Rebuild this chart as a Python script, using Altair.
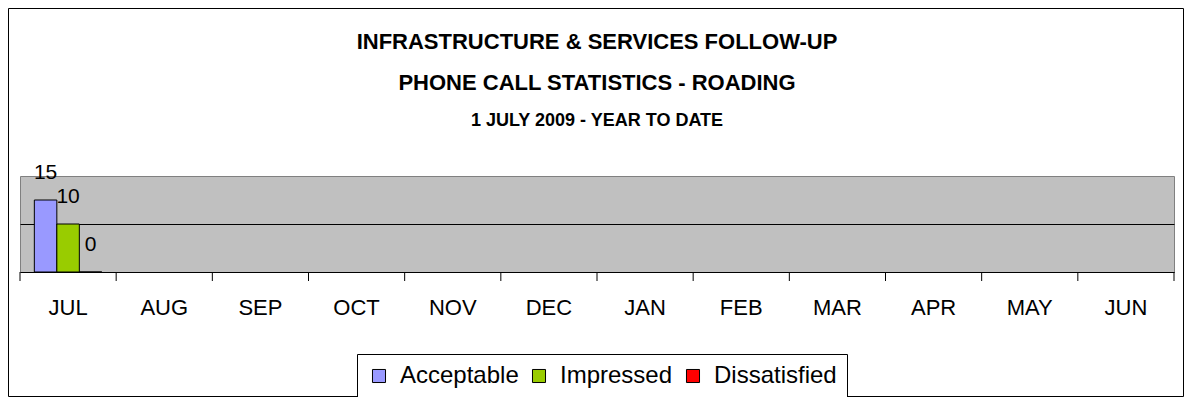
import altair as alt
import pandas as pd

months = ["JUL", "AUG", "SEP", "OCT", "NOV", "DEC", "JAN", "FEB", "MAR", "APR", "MAY", "JUN"]
series = ["Acceptable", "Impressed", "Dissatisfied"]
series_colors = ["#9999FF", "#99CC00", "#FF0000"]
jul_values = [15, 10, 0]

title_lines = ["INFRASTRUCTURE & SERVICES  FOLLOW-UP", "PHONE CALL STATISTICS - ROADING"]
subtitle_line = "1 JULY 2009 - YEAR TO DATE"

df = pd.DataFrame({"Month": ["JUL"] * len(series), "Series": series, "Value": jul_values})
ticks_df = pd.DataFrame({"Month": months})
one_df = pd.DataFrame({"k": [0]})

W, H = 1154, 96

x_enc = alt.X("Month:N", sort=months,
              scale=alt.Scale(domain=months, paddingInner=0, paddingOuter=0),
              axis=alt.Axis(title=None, ticks=False, domain=True, domainColor="black",
                            labelFontSize=22, labelColor="black", labelPadding=25,
                            labelAngle=0, grid=False))
xo_enc = alt.XOffset("Series:N", sort=series,
                     scale=alt.Scale(domain=series, paddingInner=0, paddingOuter=0.637))
y_enc = alt.Y("Value:Q", scale=alt.Scale(domain=[0, 20], nice=False),
              axis=alt.Axis(title=None, labels=False, ticks=False, domain=False,
                            grid=True, gridColor="black", gridOpacity=1, values=[10]))

bars = alt.Chart(df).mark_bar(stroke="black", strokeWidth=1).encode(
    x=x_enc, xOffset=xo_enc, y=y_enc,
    color=alt.Color("Series:N", sort=series,
                    scale=alt.Scale(domain=series, range=series_colors),
                    legend=alt.Legend(title=None, orient="none", legendX=337, legendY=178,
                                      direction="horizontal", symbolType="square",
                                      symbolSize=170, symbolStrokeColor="black",
                                      symbolStrokeWidth=1, labelFontSize=24,
                                      labelColor="black", labelOffset=9,
                                      columnPadding=8, padding=10,
                                      strokeColor="black", fillColor="white"))
)

labels = alt.Chart(df).mark_text(fontSize=21, dy=-27, baseline="middle", align="center",
                                 color="black").encode(
    x=alt.X("Month:N", sort=months), xOffset=alt.XOffset("Series:N", sort=series),
    y="Value:Q", text="Value:Q"
)

tick_marks = alt.Chart(ticks_df).mark_rule(color="black", strokeWidth=1).encode(
    x=alt.X("Month:N", sort=months, bandPosition=0),
    y=alt.value(H), y2=alt.value(H + 9)
)
end_tick = alt.Chart(one_df).mark_rule(color="black", strokeWidth=1).encode(
    x=alt.value(W), y=alt.value(H), y2=alt.value(H + 9)
)

frame = alt.Chart(one_df).mark_rect(fillOpacity=0, stroke="black", strokeWidth=1).encode(
    x=alt.value(-11.5), x2=alt.value(W + 9.5), y=alt.value(-167.5), y2=alt.value(H + 124.5)
)

chart = alt.layer(frame, bars, labels, tick_marks, end_tick).properties(
    width=W, height=H,
    autosize=alt.AutoSizeParams(type="none"),
    padding={"left": 12, "top": 168, "right": 10, "bottom": 125},
    title=alt.TitleParams(text=title_lines, subtitle=subtitle_line, anchor="middle",
                          fontSize=22, fontWeight="bold", lineHeight=41, color="black",
                          subtitleFontSize=18, subtitleFontWeight="bold",
                          subtitleColor="black", subtitlePadding=17, offset=-123,
                          font="Liberation Sans", subtitleFont="Liberation Sans")
).configure(font="Liberation Sans", background="white").configure_view(
    fill="#C0C0C0", stroke="#808080", strokeWidth=1
)

chart.save("out.html", embed_options={"renderer": "svg", "actions": False})
